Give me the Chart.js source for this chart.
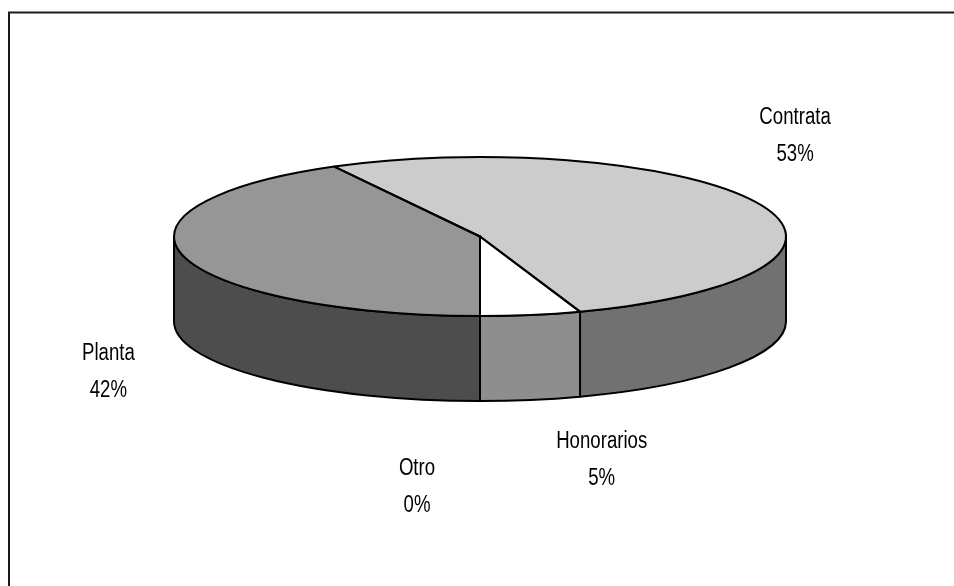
<!DOCTYPE html>
<html>
<head>
<meta charset="utf-8">
<style>html,body{margin:0;padding:0;background:#fff;overflow:hidden}canvas{display:block}</style>
<script src="https://cdn.jsdelivr.net/npm/chart.js@4"></script>
</head>
<body>
<canvas id="c" width="954" height="586"></canvas>
<script>
const categories = ['Contrata', 'Honorarios', 'Otro', 'Planta'];
const values = [52.6, 5.3, 0, 42.1];
const topColors = ['#cccccc', '#ffffff', '#ffffff', '#969696'];
const sideColors = ['#717171', '#8e8e8e', '#8e8e8e', '#4d4d4d'];
const labelOffsets = [[35, -68], [71, 145], [-63, 171], [-75, 116]];

const PIE = {radius: 306, flatten: 79.5 / 306, depth: 85, rotation: -28.44};
const FONT = '23px "Liberation Sans", Arial, sans-serif';

function sector(ctx, a) {
  const ry = a.outerRadius * PIE.flatten;
  ctx.beginPath();
  ctx.moveTo(a.x, a.y);
  ctx.ellipse(a.x, a.y, a.outerRadius, ry, 0, a.startAngle, a.endAngle);
  ctx.closePath();
}

const pie3d = {
  id: 'pie3d',
  beforeDraw(chart) {
    const {ctx, width, height} = chart;
    ctx.save();
    ctx.strokeStyle = '#1a1a1a';
    ctx.lineWidth = 2;
    ctx.beginPath();
    ctx.moveTo(9, height);
    ctx.lineTo(9, 12.5);
    ctx.lineTo(width, 12.5);
    ctx.stroke();
    ctx.restore();
  },
  beforeDatasetsDraw(chart) {
    const {ctx} = chart;
    const arcs = chart.getDatasetMeta(0).data;
    // side wall of each slice, only where it faces the viewer
    ctx.save();
    ctx.lineWidth = 2;
    ctx.strokeStyle = '#000';
    ctx.lineJoin = 'round';
    arcs.forEach((a, i) => {
      const ry = a.outerRadius * PIE.flatten;
      const tau = Math.PI * 2;
      for (const k of [-1, 0, 1]) {
        const s = Math.max(a.startAngle, k * tau);
        const e = Math.min(a.endAngle, k * tau + Math.PI);
        if (e <= s) continue;
        ctx.beginPath();
        ctx.ellipse(a.x, a.y, a.outerRadius, ry, 0, s, e);
        ctx.ellipse(a.x, a.y + PIE.depth, a.outerRadius, ry, 0, e, s, true);
        ctx.closePath();
        ctx.fillStyle = sideColors[i];
        ctx.fill();
        ctx.stroke();
      }
    });
    ctx.restore();
    // flatten the disc: the library's own arcs are drawn inside this transform
    const c = arcs[0];
    ctx.save();
    ctx.translate(c.x, c.y);
    ctx.scale(1, PIE.flatten);
    ctx.translate(-c.x, -c.y);
  },
  afterDatasetsDraw(chart) {
    const {ctx} = chart;
    ctx.restore();
    const arcs = chart.getDatasetMeta(0).data;
    ctx.save();
    ctx.lineWidth = 2;
    ctx.strokeStyle = '#000';
    ctx.lineJoin = 'round';
    arcs.forEach(a => { sector(ctx, a); ctx.stroke(); });
    ctx.restore();

    ctx.save();
    ctx.fillStyle = '#000';
    ctx.font = FONT;
    ctx.textAlign = 'center';
    ctx.textBaseline = 'middle';
    const total = values.reduce((p, v) => p + v, 0);
    arcs.forEach((a, i) => {
      const mid = (a.startAngle + a.endAngle) / 2;
      const ex = a.x + Math.cos(mid) * a.outerRadius;
      const ey = a.y + Math.sin(mid) * a.outerRadius * PIE.flatten;
      const [dx, dy] = labelOffsets[i];
      const lines = [categories[i], Math.round(values[i] / total * 100) + '%'];
      lines.forEach((t, n) => {
        ctx.save();
        ctx.translate(ex + dx, ey + dy + (n === 0 ? -18.5 : 18.5));
        ctx.scale(0.81, 1);
        ctx.fillText(t, 0, 0);
        ctx.restore();
      });
    });
    ctx.restore();
  }
};

new Chart(document.getElementById('c'), {
  type: 'pie',
  data: {
    labels: categories,
    datasets: [{data: values, backgroundColor: topColors, borderWidth: 0, hoverOffset: 0}]
  },
  options: {
    responsive: false,
    animation: false,
    radius: PIE.radius,
    rotation: PIE.rotation,
    layout: {padding: {left: 6, right: 0, top: 0, bottom: 113}},
    events: [],
    plugins: {legend: {display: false}, tooltip: {enabled: false}, title: {display: false}}
  },
  plugins: [pie3d]
});
</script>
</body>
</html>
